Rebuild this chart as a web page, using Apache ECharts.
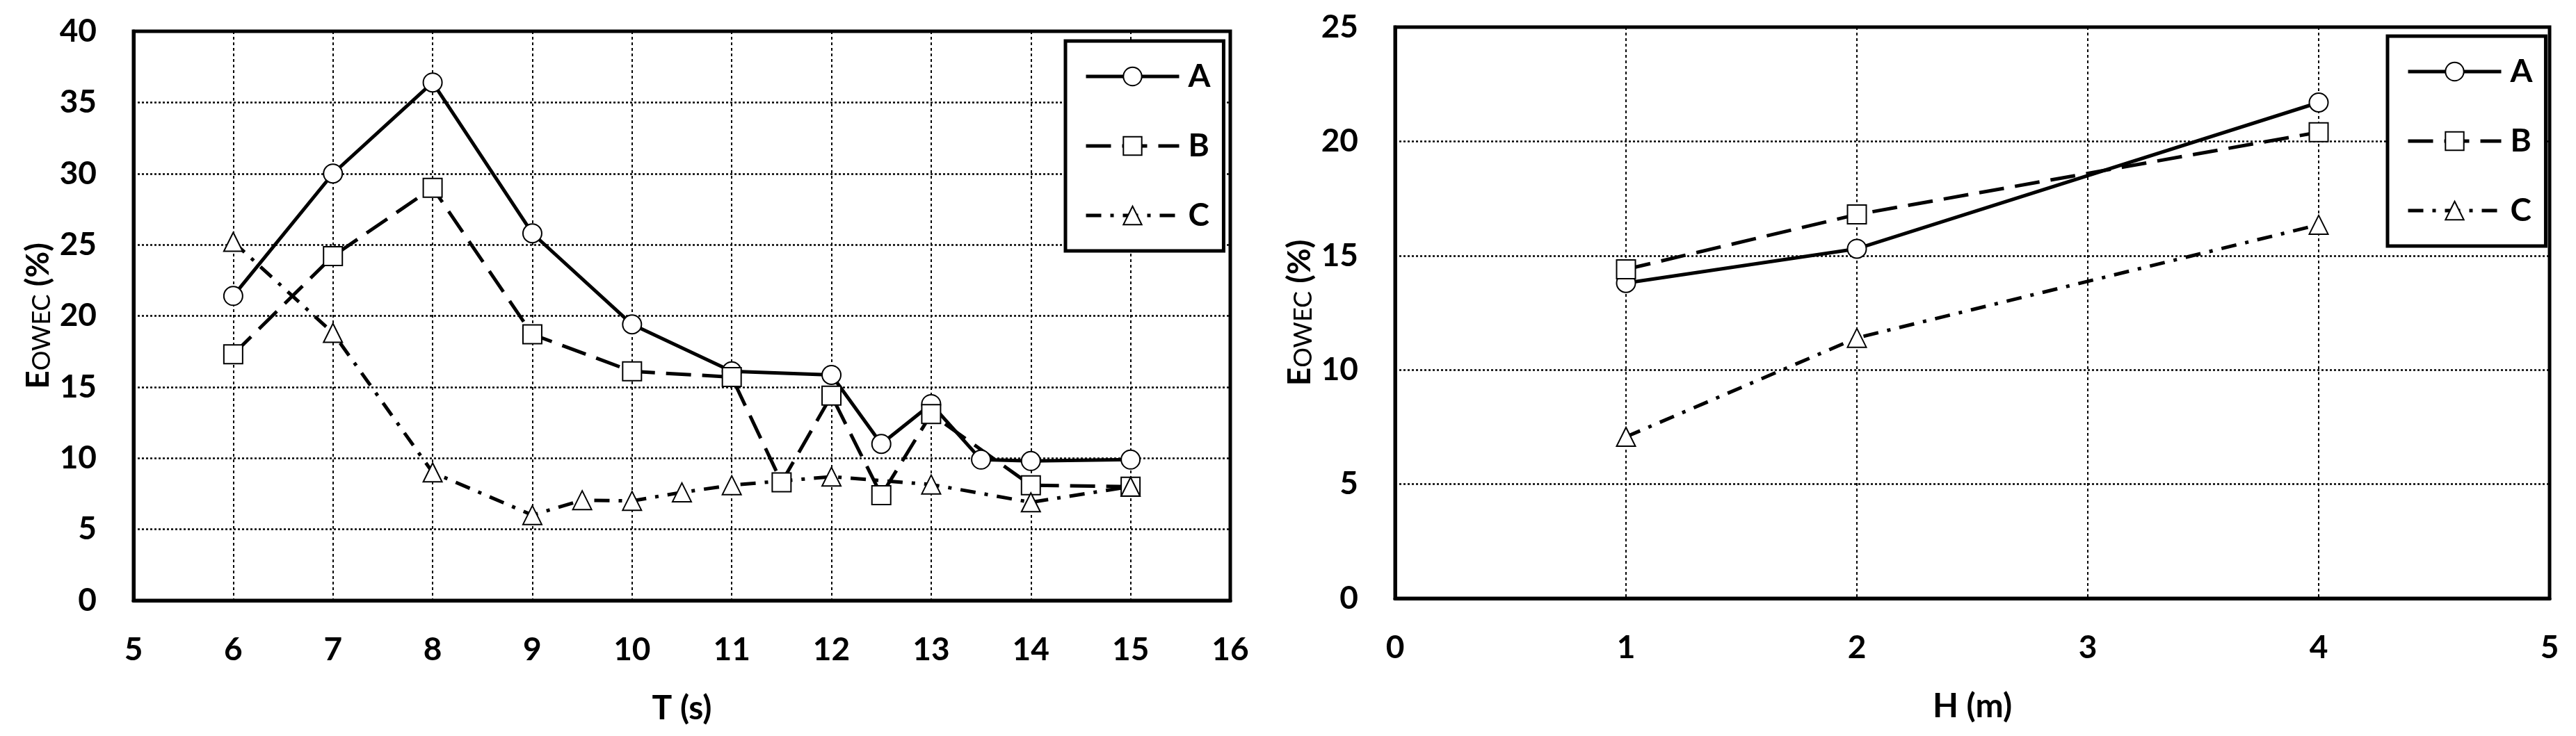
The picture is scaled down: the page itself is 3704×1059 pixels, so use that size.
<!DOCTYPE html>
<html>
<head>
<meta charset="utf-8">
<title>E_OWEC vs T and H</title>
<script src="https://cdn.jsdelivr.net/npm/echarts@6/dist/echarts.min.js"></script>
<style>
  html, body { margin: 0; padding: 0; background: #fff; }
  #main { width: 3704px; height: 1059px; }
</style>
</head>
<body>
<div id="main"></div>
<script>
// left panel: efficiency against wave period T (s)
var tA = [6, 7, 8, 9, 10, 11, 12, 12.5, 13, 13.5, 14, 15]
var eA = [21.4, 30.0, 36.4, 25.8, 19.4, 16.1, 15.85, 11.0, 13.8, 9.9, 9.8, 9.9]
var tB = [6, 7, 8, 9, 10, 11, 11.5, 12, 12.5, 13, 14, 15]
var eB = [17.3, 24.2, 29.0, 18.7, 16.1, 15.7, 8.3, 14.4, 7.4, 13.1, 8.1, 8.0]
var tC = [6, 7, 8, 9, 9.5, 10, 10.5, 11, 12, 13, 14, 15]
var eC = [25.2, 18.8, 9.0, 6.0, 7.05, 7.0, 7.6, 8.1, 8.7, 8.15, 6.9, 8.0]

// right panel: efficiency against wave height H (m)
var hVals = [1, 2, 4]
var hA = [13.8, 15.3, 21.7]
var hB = [14.4, 16.8, 20.4]
var hC = [7.07, 11.4, 16.35]

var seriesNames = ['A', 'B', 'C']

function pairs(xs, ys) {
  return xs.map(function (x, i) { return [x, ys[i]] })
}

var FONT = 'Lato'

// line styles: A solid, B long dash, C dash-dot
var lineTypes = ['solid', [36, 16], [22, 13, 5, 13]]
var symbols = ['emptyCircle', 'emptyRect', 'emptyTriangle']

function makeSeries(name, idx, data, axisIdx) {
  return {
    type: 'line',
    name: name,
    xAxisIndex: axisIdx,
    yAxisIndex: axisIdx,
    data: data,
    symbol: symbols[idx],
    symbolSize: 27,
    showAllSymbol: true,
    animation: false,
    itemStyle: { color: '#000', borderWidth: 3.5 },
    lineStyle: { color: '#000', width: 5, type: lineTypes[idx] },
    emphasis: { disabled: true }
  }
}

var yName = '{e|E}{s|OWEC}{e| (%)}'
var yNameStyle = {
  rich: {
    e: { fontFamily: FONT, fontSize: 46, fontWeight: 'bold', color: '#000', lineHeight: 46, verticalAlign: 'top' },
    s: { fontFamily: FONT, fontSize: 36, color: '#000', lineHeight: 36, padding: [28, 0, 0, 0], verticalAlign: 'bottom' }
  }
}

var splitX = { show: true, lineStyle: { color: '#000', width: 2, type: [4, 4] } }
var splitY = { show: true, lineStyle: { color: '#000', width: 2.5, type: [3, 3] } }
var tickLabel = { fontFamily: FONT, fontSize: 46, fontWeight: 'bold', color: '#000', lineHeight: 46 }

function xAxisOf(idx, min, max, name) {
  return {
    type: 'value',
    gridIndex: idx,
    min: min,
    max: max,
    interval: 1,
    name: name,
    nameLocation: 'middle',
    nameGap: 128,
    nameTextStyle: { fontFamily: FONT, fontSize: 48, fontWeight: 'bold', color: '#000', lineHeight: 56 },
    axisLine: { show: true, lineStyle: { color: '#000', width: 5 } },
    axisTick: { show: false },
    axisLabel: Object.assign({ margin: 48 }, tickLabel),
    splitLine: splitX
  }
}

function yAxisOf(idx, max) {
  return {
    type: 'value',
    gridIndex: idx,
    min: 0,
    max: max,
    interval: 5,
    name: yName,
    nameLocation: 'middle',
    nameGap: 114,
    nameMoveOverlap: false,
    nameTextStyle: yNameStyle,
    axisLine: { show: true, lineStyle: { color: '#000', width: 5 } },
    axisTick: { show: false },
    axisLabel: Object.assign({ margin: 53 }, tickLabel),
    splitLine: splitY
  }
}

function legendOf(left, top) {
  return {
    show: true,
    orient: 'vertical',
    left: left,
    top: top,
    data: seriesNames.map(function (n) { return { name: n } }),
    itemWidth: 134,
    itemHeight: 33,
    itemGap: 50,
    padding: [26, 19, 26, 27],
    borderColor: '#000',
    borderWidth: 5,
    backgroundColor: '#fff',
    selectedMode: false,
    // the legend would thin the lines to 2px otherwise
    lineStyle: { width: 5 },
    itemStyle: { borderWidth: 3.5 },
    textStyle: { fontFamily: FONT, fontSize: 46, fontWeight: 'bold', color: '#000', lineHeight: 50, padding: [0, 0, 0, 8] }
  }
}

var chart = echarts.init(document.getElementById('main'))
var option = {
  backgroundColor: '#fff',
  animation: false,
  grid: [
    { left: 192, top: 45, width: 1577, height: 819, show: true, borderColor: '#000', borderWidth: 5, backgroundColor: 'transparent' },
    { left: 2006, top: 39, width: 1660, height: 822, show: true, borderColor: '#000', borderWidth: 5, backgroundColor: 'transparent' }
  ],
  legend: [legendOf(1532, 59), legendOf(3433, 52)],
  xAxis: [xAxisOf(0, 5, 16, 'T (s)'), xAxisOf(1, 0, 5, 'H (m)')],
  yAxis: [yAxisOf(0, 40), yAxisOf(1, 25)],
  series: [
    makeSeries('A', 0, pairs(tA, eA), 0),
    makeSeries('B', 1, pairs(tB, eB), 0),
    makeSeries('C', 2, pairs(tC, eC), 0),
    makeSeries('A', 0, pairs(hVals, hA), 1),
    makeSeries('B', 1, pairs(hVals, hB), 1),
    makeSeries('C', 2, pairs(hVals, hC), 1)
  ]
}
chart.setOption(option)
</script>
</body>
</html>
